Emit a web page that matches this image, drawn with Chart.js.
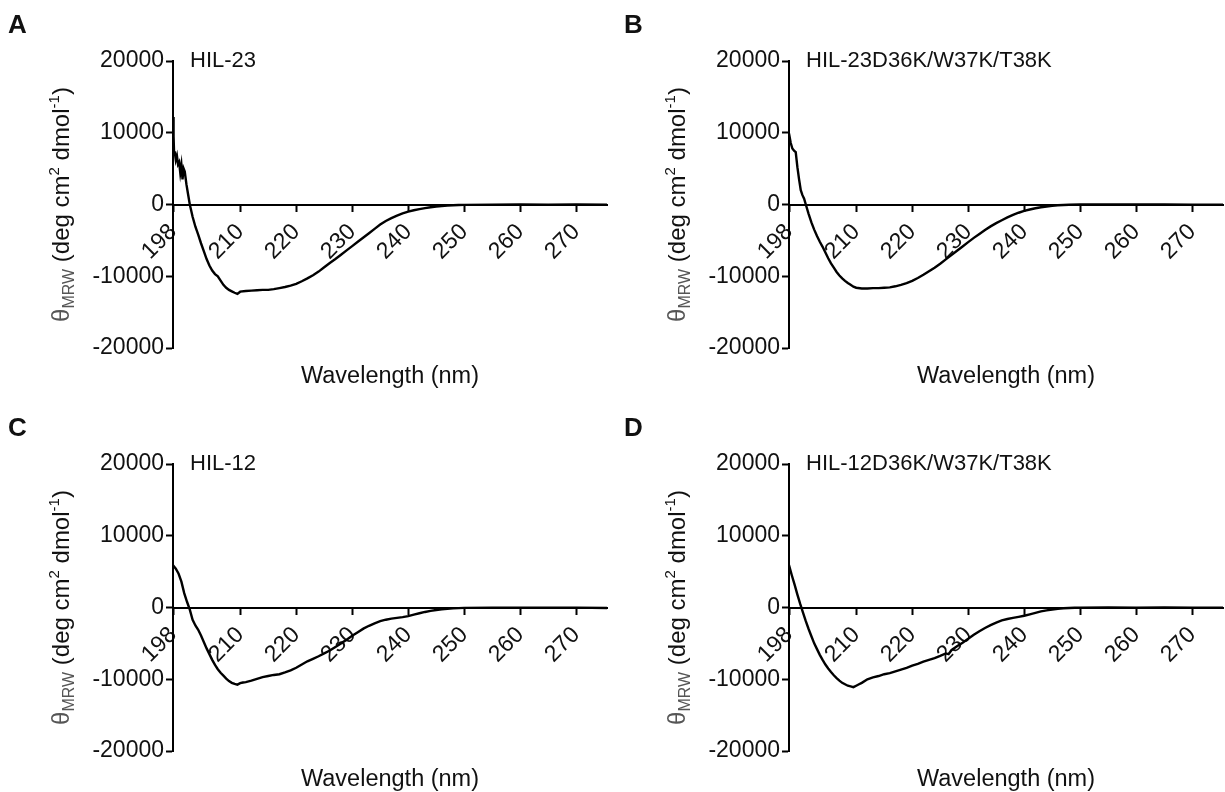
<!DOCTYPE html>
<html>
<head>
<meta charset="utf-8">
<script src="https://cdn.jsdelivr.net/npm/chart.js@4.4.0/dist/chart.umd.min.js"></script>
<style>
  html, body { margin: 0; padding: 0; background: #fff; }
  #page { position: relative; width: 1225px; height: 792px; }
  .panel { position: absolute; width: 609px; height: 400px; }
</style>
</head>
<body>
<div id="page">
  <div class="panel" style="left:0px;top:0px"><canvas id="chartA" width="609" height="400"></canvas></div>
  <div class="panel" style="left:616px;top:0px"><canvas id="chartB" width="609" height="400"></canvas></div>
  <div class="panel" style="left:0px;top:403px"><canvas id="chartC" width="609" height="400"></canvas></div>
  <div class="panel" style="left:616px;top:403px"><canvas id="chartD" width="609" height="400"></canvas></div>
</div>
<script>
// axis ticks
const xTicks = [198, 210, 220, 230, 240, 250, 260, 270];
const yTicks = [-20000, -10000, 0, 10000, 20000];
const xMin = 198, xMax = 275.5;

const xTitle = "Wavelength (nm)";
const panelLetters = ["A", "B", "C", "D"];
const panelNames = ["HIL-23", "HIL-23D36K/W37K/T38K", "HIL-12", "HIL-12D36K/W37K/T38K"];

// HIL-23 (panel A)
const wlA = [198.0, 198.1, 198.2, 198.3, 198.5, 198.7, 198.9, 199.1, 199.3, 199.5, 199.7, 199.9, 200.1, 200.4, 200.7,
  201, 201.5, 202, 202.5, 203, 203.5, 204, 204.5, 205, 205.5, 206, 206.5, 207, 207.5, 208, 208.5, 209, 209.5,
  210, 211, 212, 213, 214, 215, 216, 217, 218, 219, 220, 221, 222, 223, 224, 225, 226, 227, 228, 229, 230,
  231, 232, 233, 234, 235, 236, 237, 238, 239, 240, 241, 242, 243, 244, 245, 246, 247, 248, 249, 250,
  255, 260, 265, 270, 275.5];
const thetaA = [12200, 9500, 7000, 7400, 6200, 6800, 5600, 5900, 4400, 5500, 3500, 5000, 4600, 2800, 1400,
  0, -1700, -3100, -4200, -5400, -6500, -7600, -8500, -9200, -9700, -10000, -10600, -11200, -11600, -11900, -12100, -12300, -12450,
  -12150, -12050, -12000, -11950, -11900, -11900, -11800, -11650, -11500, -11300, -11050, -10700, -10300, -9850, -9350, -8750, -8150, -7600, -7000, -6400, -5800,
  -5200, -4600, -4000, -3400, -2800, -2300, -1900, -1550, -1250, -1000, -800, -650, -500, -380, -280, -200, -150, -100, -70, -50,
  -20, -10, -20, 0, -30];

// HIL-23D36K/W37K/T38K (panel B)
const wlB = [198.0, 198.3, 198.6, 198.9, 199.2, 199.5, 199.8, 200.1, 200.4, 200.7,
  201, 201.5, 202, 202.5, 203, 203.5, 204, 204.5, 205, 205.5, 206, 206.5, 207, 207.5, 208, 208.5, 209, 209.5,
  210, 211, 212, 213, 214, 215, 216, 217, 218, 219, 220, 221, 222, 223, 224, 225, 226, 227, 228, 229, 230,
  231, 232, 233, 234, 235, 236, 237, 238, 239, 240, 241, 242, 243, 244, 245, 246, 247, 248, 250,
  255, 260, 265, 270, 275.5];
const thetaB = [9900, 8600, 7800, 7500, 7300, 5200, 3500, 2000, 1300, 800,
  0, -1300, -2500, -3500, -4400, -5200, -5900, -6700, -7500, -8200, -8800, -9400, -9900, -10300, -10650, -10950, -11200, -11450,
  -11600, -11700, -11700, -11650, -11650, -11600, -11550, -11400, -11200, -10950, -10650, -10250, -9800, -9300, -8800, -8250, -7650, -7050, -6450, -5850, -5250,
  -4650, -4100, -3550, -3050, -2600, -2200, -1800, -1450, -1150, -900, -700, -520, -380, -270, -180, -110, -60, -30, -10,
  0, -10, 0, -20, -30];

// HIL-12 (panel C)
const wlC = [198, 198.5, 199, 199.5, 200, 200.5, 201, 201.5, 202, 202.5, 203, 203.5, 204, 204.5, 205, 205.5,
  206, 206.5, 207, 207.5, 208, 208.5, 209, 209.5, 210, 210.5, 211, 212, 213, 214, 215, 216, 217, 218, 219, 220,
  221, 222, 223, 224, 225, 226, 227, 228, 229, 230, 231, 232, 233, 234, 235, 236, 237, 238, 239, 240,
  241, 242, 243, 244, 245, 246, 247, 248, 249, 250, 255, 260, 265, 270, 275.5];
const thetaC = [5900, 5400, 4700, 3600, 2000, 800, -300, -1700, -2500, -3100, -3900, -4800, -5700, -6500, -7300, -8000,
  -8600, -9100, -9500, -9900, -10250, -10500, -10650, -10750, -10550, -10450, -10400, -10200, -9950, -9700, -9550, -9400, -9300, -9050, -8750, -8400,
  -7950, -7500, -7150, -6800, -6400, -6000, -5500, -5000, -4500, -3950, -3450, -2950, -2550, -2200, -1900, -1700, -1550, -1450, -1350, -1200,
  -1000, -800, -620, -470, -350, -250, -180, -120, -80, -50, -30, -20, -30, -20, -60];

// HIL-12D36K/W37K/T38K (panel D)
const wlD = [198, 198.5, 199, 199.5, 200, 200.5, 201, 201.5, 202, 202.5, 203, 203.5, 204, 204.5, 205, 205.5,
  206, 206.5, 207, 207.5, 208, 208.5, 209, 209.5, 210, 210.5, 211, 212, 213, 214, 215, 216, 217, 218, 219, 220,
  221, 222, 223, 224, 225, 226, 226.5, 227, 228, 229, 230, 231, 232, 233, 234, 235, 236, 237, 238, 239, 240,
  241, 242, 243, 244, 245, 246, 247, 248, 249, 250, 255, 260, 265, 270, 275.5];
const thetaD = [5900, 4500, 3200, 1800, 500, -700, -1900, -3000, -4000, -5000, -5800, -6600, -7300, -7950, -8500, -9000,
  -9450, -9850, -10200, -10500, -10700, -10900, -11000, -11100, -10900, -10700, -10500, -10000, -9750, -9550, -9300, -9150, -8900, -8650, -8400, -8100,
  -7850, -7550, -7300, -7050, -6750, -6400, -6500, -5950, -5400, -4900, -4350, -3800, -3300, -2850, -2450, -2100, -1800, -1600, -1450, -1300, -1150,
  -950, -750, -550, -400, -280, -180, -110, -60, -30, -20, -10, -20, -10, -30, -40];

const FONT = '"Liberation Sans", Arial, sans-serif';
const INK = "#111";

// panel letter, sample name and axis titles (with sub/superscripts)
const panelText = {
  id: "panelText",
  afterDraw(chart, args, opts) {
    const ctx = chart.ctx;
    const area = chart.chartArea;
    ctx.save();
    ctx.fillStyle = INK;
    ctx.textAlign = "left";
    ctx.textBaseline = "alphabetic";
    ctx.font = "bold 26px " + FONT;
    ctx.fillText(opts.letter, 8, 33);

    ctx.font = "22px " + FONT;
    ctx.textBaseline = "middle";
    ctx.fillText(opts.name, area.left + 17, area.top);

    ctx.font = "23.5px " + FONT;
    ctx.textAlign = "center";
    ctx.fillText(xTitle, (area.left + area.right) / 2, area.bottom + 29);

    // y title: θMRW (deg cm2 dmol-1)
    const parts = [
      { t: "\u03B8", size: 24, dy: 0, color: "#555" },
      { t: "MRW", size: 16, dy: 5, color: "#555" },
      { t: " (deg cm", size: 24, dy: 0, color: INK },
      { t: "2", size: 15, dy: -10, color: INK },
      { t: " dmol", size: 24, dy: 0, color: INK },
      { t: "-1", size: 15, dy: -10, color: INK },
      { t: ")", size: 24, dy: 0, color: INK },
    ];
    ctx.textAlign = "left";
    ctx.textBaseline = "alphabetic";
    let total = 0;
    parts.forEach((p) => {
      ctx.font = p.size + "px " + FONT;
      p.w = ctx.measureText(p.t).width;
      total += p.w;
    });
    ctx.translate(area.left - 104, (area.top + area.bottom) / 2);
    ctx.rotate(-Math.PI / 2);
    let x = -total / 2;
    parts.forEach((p) => {
      ctx.font = p.size + "px " + FONT;
      ctx.fillStyle = p.color;
      ctx.fillText(p.t, x, p.dy);
      x += p.w;
    });
    ctx.restore();
  },
};

function makeChart(id, wl, theta, idx) {
  const points = wl.map((w, i) => ({ x: w, y: theta[i] }));
  return new Chart(document.getElementById(id), {
    type: "line",
    data: {
      datasets: [
        {
          data: points,
          borderColor: "#000",
          borderWidth: 2.4,
          pointRadius: 0,
          tension: 0,
          fill: false,
        },
      ],
    },
    plugins: [panelText],
    options: {
      responsive: false,
      animation: false,
      events: [],
      layout: {
        autoPadding: false,
        padding: { left: 0, top: 61, right: 2, bottom: 52 },
      },
      plugins: {
        legend: { display: false },
        tooltip: { enabled: false },
        panelText: { letter: panelLetters[idx], name: panelNames[idx] },
      },
      scales: {
        x: {
          type: "linear",
          position: { y: 0 },
          min: xMin,
          max: xMax,
          afterBuildTicks: (scale) => {
            scale.ticks = xTicks.map((v) => ({ value: v }));
          },
          grid: { drawOnChartArea: false, drawTicks: true, tickLength: 6, tickWidth: 2, tickColor: "#000" },
          border: { display: true, color: "#000", width: 2 },
          ticks: {
            autoSkip: false,
            minRotation: 45,
            maxRotation: 45,
            padding: 8,
            color: INK,
            font: { family: FONT, size: 23 },
            callback: (v) => String(v),
          },
        },
        y: {
          type: "linear",
          position: "left",
          min: yTicks[0],
          max: yTicks[yTicks.length - 1],
          afterBuildTicks: (scale) => {
            scale.ticks = yTicks.map((v) => ({ value: v }));
          },
          afterFit: (scale) => {
            scale.width = 173;
          },
          grid: { drawOnChartArea: false, drawTicks: true, tickLength: 7, tickWidth: 2, tickColor: "#000" },
          border: { display: true, color: "#000", width: 2 },
          ticks: {
            padding: 2,
            color: INK,
            font: { family: FONT, size: 23 },
            callback: (v) => String(v),
          },
        },
      },
    },
  });
}

makeChart("chartA", wlA, thetaA, 0);
makeChart("chartB", wlB, thetaB, 1);
makeChart("chartC", wlC, thetaC, 2);
makeChart("chartD", wlD, thetaD, 3);
</script>
</body>
</html>
